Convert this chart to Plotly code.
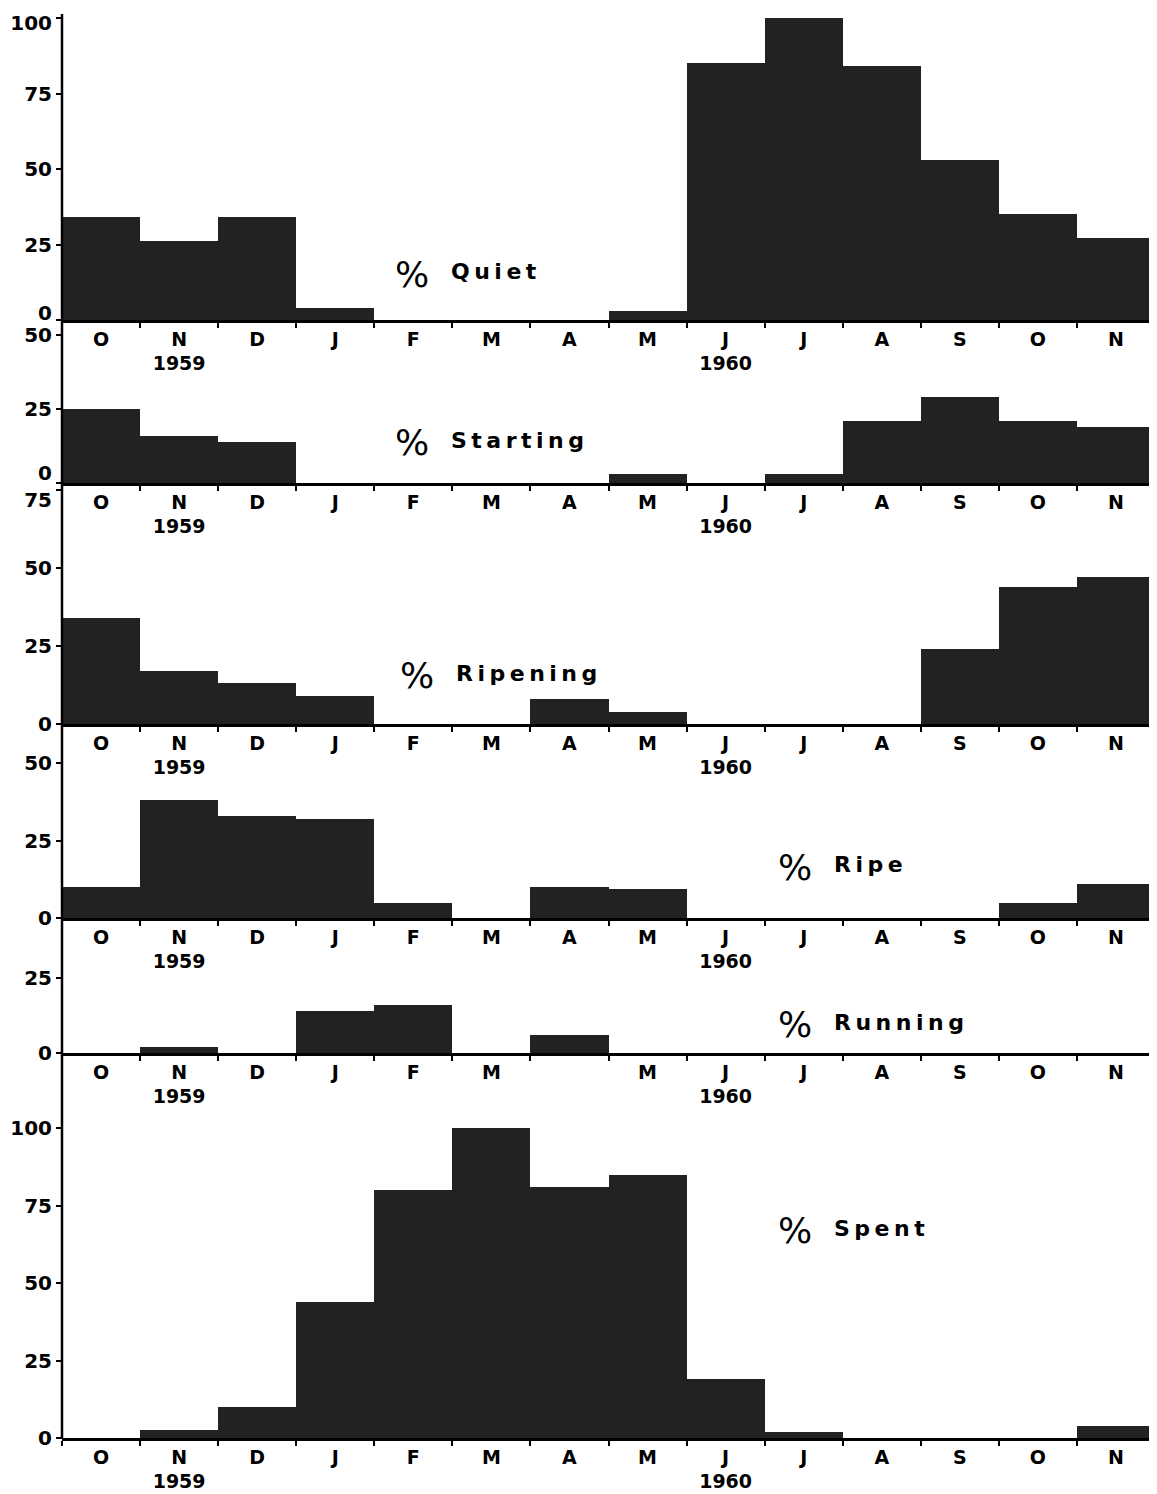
import plotly.graph_objects as go

W, H = 1157, 1494
OFF = 8                      # default page (body) margin of the html page
FW, FH = W - OFF, H - OFF    # figure size so that it fills the window
L, R = 62, 2                 # plot area left / right edge in window pixels

months = ["O", "N", "D", "J", "F", "M", "A", "M", "J", "J", "A", "S", "O", "N"]
months_running = ["O", "N", "D", "J", "F", "M", "", "M", "J", "J", "A", "S", "O", "N"]
year_labels = {1: "1959", 8: "1960"}

quiet = [34, 26, 34, 4, 0, 0, 0, 3, 85, 100, 84, 53, 35, 27]
starting = [25, 16, 14, 0, 0, 0, 0, 3, 0, 3, 21, 29, 21, 19]
ripening = [34, 17, 13, 9, 0, 0, 8, 4, 0, 0, 0, 24, 44, 47]
ripe = [10, 38, 33, 32, 5, 0, 10, 9.5, 0, 0, 0, 0, 5, 11]
running = [0, 2, 0, 14, 16, 0, 6, 0, 0, 0, 0, 0, 0, 0]
spent = [0, 2.5, 10, 44, 80, 100, 81, 85, 19, 2, 0, 0, 0, 4]

yticks_quiet = [0, 25, 50, 75, 100]
yticks_starting = [0, 25, 50]
yticks_ripening = [0, 25, 50, 75]
yticks_ripe = [0, 25, 50]
yticks_running = [0, 25]
yticks_spent = [0, 25, 50, 75, 100]

labels = ["Quiet", "Starting", "Ripening", "Ripe", "Running", "Spent"]

# window-pixel layout: zero line, top line, top value, displaced tick labels, label position
panels = [
    dict(v=quiet, yt=yticks_quiet, zero=320, top=18, tv=100, mv={0: -7, 100: 5}, mt=months, lab=(393, 272)),
    dict(v=starting, yt=yticks_starting, zero=483, top=335, tv=50, mv={0: -10}, mt=months, lab=(393, 440)),
    dict(v=ripening, yt=yticks_ripening, zero=724, top=490, tv=75, mv={75: 10}, mt=months, lab=(398, 673)),
    dict(v=ripe, yt=yticks_ripe, zero=918, top=763, tv=50, mv={}, mt=months, lab=(776, 865)),
    dict(v=running, yt=yticks_running, zero=1053, top=978, tv=25, mv={}, mt=months_running, lab=(776, 1022)),
    dict(v=spent, yt=yticks_spent, zero=1438, top=1128, tv=100, mv={}, mt=months, lab=(776, 1228)),
]

def py(p):
    return 1 - (p - OFF) / FH

def px(p):
    return (p - L) / (W - L - R)

FONT = "DejaVu Sans"
YFONT = dict(family=FONT, size=20, color="black", weight="bold")
fig = go.Figure()
layout = dict(
    width=FW, height=FH, margin=dict(l=L - OFF, r=R, t=0, b=0, autoexpand=False),
    paper_bgcolor="white", plot_bgcolor="rgba(0,0,0,0)",
    showlegend=False, bargap=0,
)
annotations = []
n = len(months)
extra = len(panels)
for i, p in enumerate(panels):
    k = "" if i == 0 else str(i + 1)
    ticktext = []
    for j, m in enumerate(p["mt"]):
        if j in year_labels:
            ticktext.append(m + "<br>" + year_labels[j])
        else:
            ticktext.append(m)
    fig.add_trace(go.Bar(
        x=list(range(n)), y=p["v"], width=1.0,
        marker=dict(color="#222222", line=dict(width=0)),
        xaxis="x" + k, yaxis="y" + k, hoverinfo="skip",
    ))
    layout["xaxis" + k] = dict(
        domain=[0, 1], anchor="y" + k, range=[-0.5, n - 0.5], automargin=False,
        tickmode="array", tickvals=list(range(n)), ticktext=ticktext,
        ticks="",
        tickfont=dict(family=FONT, size=19, color="black", weight="bold"),
        showline=True, linecolor="black", linewidth=2.5,
        showgrid=False, zeroline=False, fixedrange=True,
        minor=dict(tickmode="array", tickvals=[j - 0.5 for j in range(n + 1)],
                   ticks="outside", ticklen=5, tickwidth=2, tickcolor="black",
                   showgrid=False),
    )
    layout["yaxis" + k] = dict(
        domain=[py(p["zero"]), py(p["top"])], anchor="x" + k, automargin=False,
        range=[0, p["tv"]], tickmode="array", tickvals=p["yt"],
        ticktext=["" if t in p["mv"] else str(t) for t in p["yt"]],
        ticklabeloverflow="allow",
        ticks="outside", ticklen=5, tickwidth=2, tickcolor="black",
        tickfont=YFONT,
        showline=False, showgrid=False, zeroline=False, fixedrange=True,
    )
    # tick labels that sit slightly off their tick in the original print
    for val, shift in p["mv"].items():
        extra += 1
        ek = str(extra)
        fig.add_trace(go.Bar(x=[], y=[], xaxis="x" + k, yaxis="y" + ek, hoverinfo="skip"))
        layout["yaxis" + ek] = dict(
            overlaying="y" + k, anchor="x" + k, side="left", automargin=False,
            range=[0, p["tv"]], tickmode="array", tickvals=[val], ticktext=[str(val)],
            ticklabelshift=shift, ticklabeloverflow="allow",
            ticks="outside", ticklen=5, tickwidth=2, tickcolor="black",
            tickfont=YFONT,
            showline=False, showgrid=False, zeroline=False, fixedrange=True,
        )
    lx, ly = p["lab"]
    annotations.append(dict(
        xref="paper", yref="paper", x=px(lx), y=py(ly + 2), xanchor="left", yanchor="middle",
        text="%", showarrow=False,
        font=dict(family=FONT, size=36, color="black"),
    ))
    annotations.append(dict(
        xref="paper", yref="paper", x=px(lx + 56), y=py(ly), xanchor="left", yanchor="middle",
        text="<span style='letter-spacing:4.5px'>" + labels[i] + "</span>", showarrow=False,
        font=dict(family=FONT, size=22, color="black", weight="bold"),
    ))

layout["annotations"] = annotations
layout["shapes"] = [dict(
    type="line", xref="paper", yref="paper", x0=0, x1=0,
    y0=py(panels[-1]["zero"] + 1), y1=py(14),
    line=dict(color="black", width=2.5),
)]
fig.update_layout(**layout)
fig.write_html("out.html")
